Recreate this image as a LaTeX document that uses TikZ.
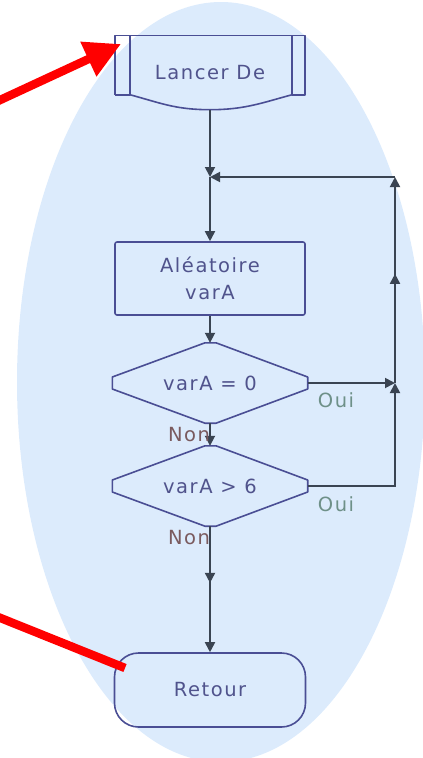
\documentclass[tikz,border=0pt]{standalone}
\usepackage{fontspec}
\newfontfamily\nfont[LetterSpace=8]{DejaVu Sans}
\usetikzlibrary{arrows.meta,decorations.markings}
\definecolor{ellfill}{HTML}{DCEBFC}
\definecolor{nodeline}{HTML}{4A4E94}
\definecolor{nodetext}{HTML}{50538C}
\definecolor{connline}{HTML}{3A4452}
\definecolor{ouicol}{HTML}{6E9088}
\definecolor{noncol}{HTML}{7A5A5E}
\definecolor{redarrow}{HTML}{FF0000}
\begin{document}
\begin{tikzpicture}[x=1pt,y=-1pt,
  txt/.style={font=\nfont\fontsize{19.5}{27}\selectfont, text=nodetext, align=center, inner sep=0pt},
  shapeline/.style={draw=nodeline, line width=1.6pt, line join=round},
  procbox/.style={txt, shapeline, rounded corners=2pt},
  conn/.style={draw=connline, line width=1.8pt, -{Triangle[length=10pt,width=10pt]}},
  midarrow/.style={postaction={decorate}, decoration={markings, mark=at position #1 with {\arrow{Triangle[length=10pt,width=10pt]}}}},
  lbl/.style={font=\nfont\fontsize{19.5}{23}\selectfont, inner sep=0pt},
  redline/.style={draw=redarrow, line width=8.5pt}
]
\useasboundingbox (0,0) rectangle (423,758);
\fill[ellfill] (221,382) ellipse [x radius=204, y radius=380];

% start node (Lancer De)
\node[txt, minimum width=190pt, minimum height=74pt] (start) at (210,72.5) {Lancer De};
\coordinate (lsw) at ([yshift=15pt]start.south west);
\coordinate (lse) at ([yshift=15pt]start.south east);
\draw[shapeline] (lsw) -- (start.north west) -- (start.north east) -- (lse) -- ([xshift=-13pt]lse) -- ([xshift=-13pt]start.north east);
\draw[shapeline] ([xshift=15pt]start.north west) -- ([xshift=15pt]lsw) -- (lsw);
\draw[shapeline] ([xshift=15pt]lsw) .. controls +(30,8) and +(-35,0) .. (start.south) .. controls +(35,0) and +(-30,8) .. ([xshift=-13pt]lse);

% process box
\node[procbox, minimum width=190pt, minimum height=73pt] (alea) at (210,278.5) {Aléatoire\\varA};

% decisions
\node[txt, minimum width=195pt, minimum height=80pt] (d1) at (210,383) {varA = 0};
\node[txt, minimum width=195pt, minimum height=80pt] (d2) at (210,486) {varA > 6};
\foreach \d in {d1,d2}{
  \draw[shapeline] ([xshift=-5pt]\d.north) -- ([xshift=6pt]\d.north) -- ([yshift=6pt]\d.east) -- ([yshift=-6pt]\d.east) -- ([xshift=6pt]\d.south) -- ([xshift=-5pt]\d.south) -- ([yshift=-6pt]\d.west) -- ([yshift=6pt]\d.west) -- cycle;
}

% return
\node[txt, shapeline, rounded corners=24pt, minimum width=191pt, minimum height=74pt] (ret) at (210,690) {Retour};

% junctions
\coordinate (j1) at (210,177);
\coordinate (c1) at (395,177);
\coordinate (j2) at (395,383);

% connectors
\draw[conn] (start.south) -- (j1);
\draw[conn] (j1) -- (alea.north);
\draw[conn] (alea.south) -- (d1.north);
\draw[conn] (d1.south) -- (d2.north);
\draw[conn, midarrow=0.45] (d2.south) -- (ret.north);
\draw[conn] (d1.east) -- (j2);
\draw[conn] (d2.east) -| (j2);
\draw[conn, midarrow=0.53] (j2) -- (c1);
\draw[conn] (c1) -- (j1);

% labels
\node[lbl, text=noncol] (non1) at (189,435) {Non};
\node[lbl, text=noncol] (non2) at (189,538) {Non};
\node[lbl, text=ouicol] (oui1) at (336,400) {Oui};
\node[lbl, text=ouicol] (oui2) at (336,504) {Oui};

% red arrows
\coordinate (r1s) at (-2,101);
\coordinate (r1e) at (121,44);
\draw[redline, -{Triangle[length=36pt,width=36pt]}] (r1s) -- (r1e);
\coordinate (r2s) at (-2,617);
\coordinate (r2e) at (125,668);
\draw[redline] (r2s) -- (r2e);
\end{tikzpicture}
\end{document}
